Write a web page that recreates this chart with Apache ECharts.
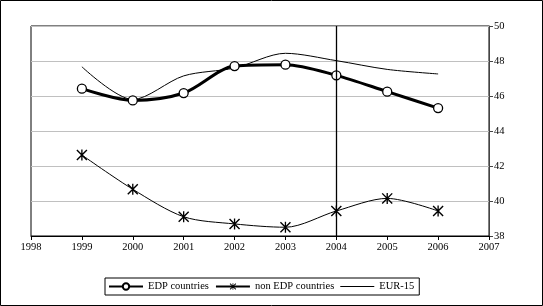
<!DOCTYPE html>
<html><head><meta charset="utf-8">
<script src="https://cdn.jsdelivr.net/npm/echarts@6/dist/echarts.min.js"></script>
<style>html,body{margin:0;padding:0;background:#fff}#c{width:543px;height:306px}</style>
</head><body><div id="c"></div>
<script>
const years = [1999, 2000, 2001, 2002, 2003, 2004, 2005, 2006];
const edp = [46.42, 45.75, 46.17, 47.71, 47.79, 47.18, 46.25, 45.31];
const nonEdp = [42.63, 40.67, 39.10, 38.69, 38.50, 39.43, 40.15, 39.43];
const eur15 = [47.67, 45.80, 47.15, 47.60, 48.44, 48.02, 47.52, 47.26];
const xMin = 1998, xMax = 2007;
const yMin = 38, yMax = 50, yStep = 2;
const markerYear = 2004;

const pair = arr => years.map((y, i) => [y, arr[i]]);
const starPath = 'path://M0,0.9L0.9,0L10,9.1L9.1,10Z M10,0.9L0.9,10L0,9.1L9.1,0Z M4.4,0L5.6,0L5.6,10L4.4,10Z';
const thinLine = 'path://M0,0h0.01v0.01h-0.01Z M0,3.5h40v1.1h-40Z M0,8h0.01v0.01h-0.01Z';
const font = 'Liberation Serif';

const chart = echarts.init(document.getElementById('c'));
chart.setOption({
  animation: false,
  textStyle: { fontFamily: font },
  graphic: [{ type: 'rect', shape: { x: 0.5, y: 0.5, width: 542, height: 305 }, style: { fill: 'none', stroke: '#000', lineWidth: 1 }, silent: true }],
  grid: { left: 31, right: 54, top: 26, bottom: 70, show: true, borderColor: '#000', borderWidth: 1 },
  xAxis: {
    type: 'value', min: xMin, max: xMax, interval: 1,
    axisLine: { lineStyle: { color: '#000', width: 1 } },
    axisTick: { show: true, length: 4, lineStyle: { color: '#000' } },
    axisLabel: { color: '#000', fontSize: 10.5, fontFamily: font, margin: 6, formatter: v => String(v) },
    splitLine: { show: false }
  },
  yAxis: {
    type: 'value', position: 'right', min: yMin, max: yMax, interval: yStep,
    axisLine: { show: true, lineStyle: { color: '#444', width: 1 } },
    axisTick: { show: true, length: 4, lineStyle: { color: '#444' } },
    axisLabel: { color: '#000', fontSize: 10.5, fontFamily: font, margin: 5 },
    splitLine: { show: true, lineStyle: { color: '#c0c0c0', width: 1 } }
  },
  legend: {
    left: 105, top: 278, itemGap: 6, itemWidth: 34, itemHeight: 8,
    padding: [3, 5, 3, 3], borderColor: '#000', borderWidth: 1,
    textStyle: { fontFamily: font, fontSize: 10.5, color: '#000' },
    data: ['EDP countries', 'non EDP countries', { name: 'EUR-15', icon: thinLine }]
  },
  series: [
    {
      name: 'EUR-15', type: 'line', data: pair(eur15), smooth: 0.3,
      symbol: 'none', lineStyle: { color: '#000', width: 1 }, itemStyle: { color: '#000' }, z: 2
    },
    {
      name: 'EDP countries', type: 'line', data: pair(edp), smooth: 0.3,
      symbol: 'circle', symbolSize: 9,
      lineStyle: { color: '#000', width: 3 },
      itemStyle: { color: '#fff', borderColor: '#000', borderWidth: 1.3 }, z: 4,
      markLine: {
        silent: true, symbol: 'none', label: { show: false },
        lineStyle: { color: '#000', width: 1.3, type: 'solid' },
        data: [{ xAxis: markerYear }]
      }
    },
    {
      name: 'non EDP countries', type: 'line', data: pair(nonEdp), smooth: 0.3,
      symbol: starPath, symbolSize: 11, symbolKeepAspect: true,
      lineStyle: { color: '#000', width: 1 },
      itemStyle: { color: '#000' }, z: 3
    }
  ]
});
</script></body></html>
